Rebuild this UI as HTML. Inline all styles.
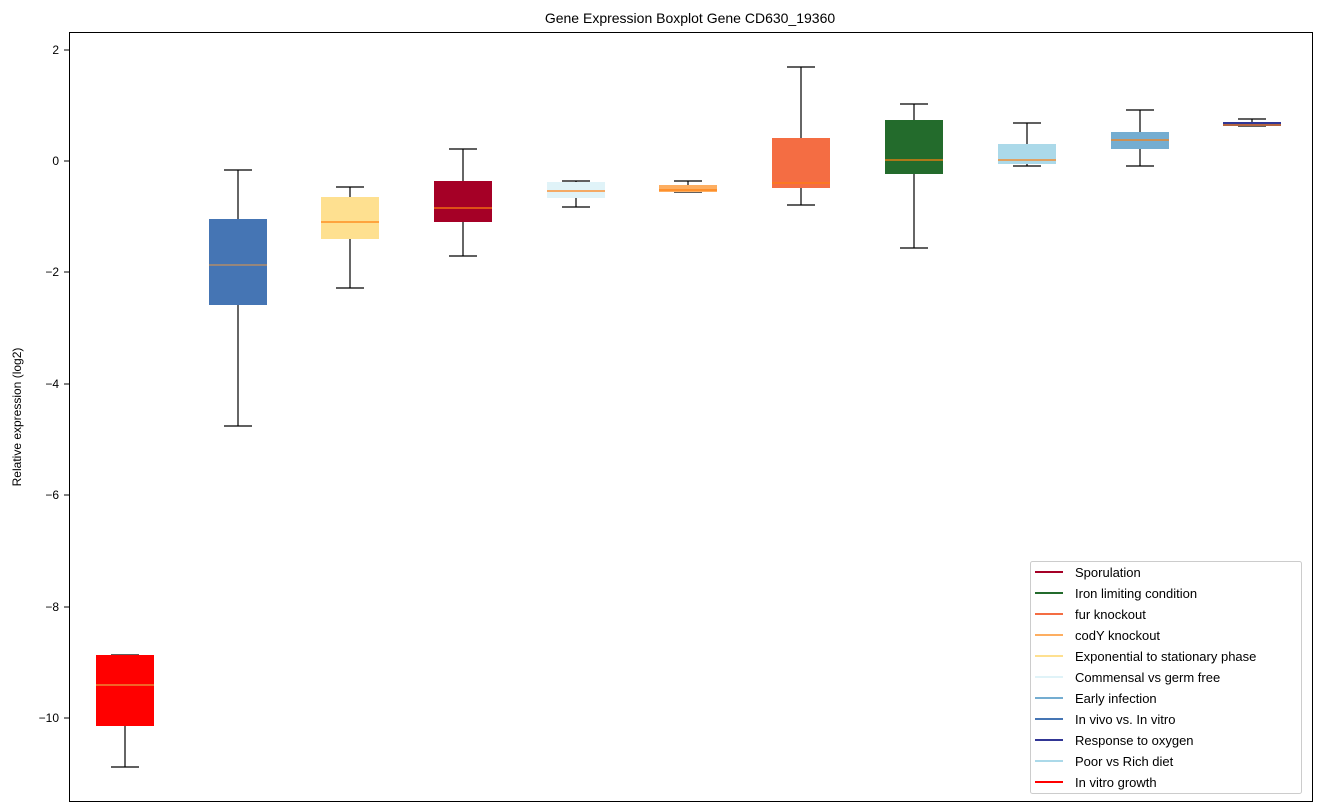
<!DOCTYPE html>
<html><head><meta charset="utf-8"><style>body{margin:0;background:#fff}svg{display:block;font-family:"Liberation Sans","DejaVu Sans",sans-serif}</style></head><body>
<svg width="1318" height="812" viewBox="0 0 1318 812">
<rect width="1318" height="812" fill="#fff"/>
<text x="690" y="23" font-size="14" text-anchor="middle">Gene Expression Boxplot Gene CD630_19360</text>
<g font-size="12" text-anchor="end">
<line x1="64" x2="69" y1="50" y2="50" stroke="#000"/><text x="59" y="54">2</text>
<line x1="64" x2="69" y1="161" y2="161" stroke="#000"/><text x="59" y="165">0</text>
<line x1="64" x2="69" y1="272" y2="272" stroke="#000"/><text x="59" y="276">−2</text>
<line x1="64" x2="69" y1="384" y2="384" stroke="#000"/><text x="59" y="388">−4</text>
<line x1="64" x2="69" y1="495" y2="495" stroke="#000"/><text x="59" y="499">−6</text>
<line x1="64" x2="69" y1="607" y2="607" stroke="#000"/><text x="59" y="611">−8</text>
<line x1="64" x2="69" y1="718" y2="718" stroke="#000"/><text x="59" y="722">−10</text>
</g>
<text transform="translate(21,417) rotate(-90)" font-size="12" text-anchor="middle">Relative expression (log2)</text>
<g stroke="#000" stroke-width="1.2">
<line x1="125" x2="125" y1="726" y2="767"/><line x1="111" x2="139" y1="767" y2="767"/><line x1="111" x2="139" y1="655" y2="655"/>
<line x1="238" x2="238" y1="170" y2="426"/><line x1="224" x2="252" y1="170" y2="170"/><line x1="224" x2="252" y1="426" y2="426"/>
<line x1="350" x2="350" y1="187" y2="288"/><line x1="336" x2="364" y1="187" y2="187"/><line x1="336" x2="364" y1="288" y2="288"/>
<line x1="463" x2="463" y1="149" y2="256"/><line x1="449" x2="477" y1="149" y2="149"/><line x1="449" x2="477" y1="256" y2="256"/>
<line x1="576" x2="576" y1="181" y2="207"/><line x1="562" x2="590" y1="181" y2="181"/><line x1="562" x2="590" y1="207" y2="207"/>
<line x1="688" x2="688" y1="181" y2="192"/><line x1="674" x2="702" y1="181" y2="181"/><line x1="674" x2="702" y1="192" y2="192"/>
<line x1="801" x2="801" y1="67" y2="205"/><line x1="787" x2="815" y1="67" y2="67"/><line x1="787" x2="815" y1="205" y2="205"/>
<line x1="914" x2="914" y1="104" y2="248"/><line x1="900" x2="928" y1="104" y2="104"/><line x1="900" x2="928" y1="248" y2="248"/>
<line x1="1027" x2="1027" y1="123" y2="166"/><line x1="1013" x2="1041" y1="123" y2="123"/><line x1="1013" x2="1041" y1="166" y2="166"/>
<line x1="1140" x2="1140" y1="110" y2="166"/><line x1="1126" x2="1154" y1="110" y2="110"/><line x1="1126" x2="1154" y1="166" y2="166"/>
<line x1="1252" x2="1252" y1="119" y2="123"/><line x1="1238" x2="1266" y1="119" y2="119"/><line x1="1238" x2="1266" y1="126" y2="126"/>
</g>
<g>
<rect x="96" y="655" width="58" height="71" fill="#ff0000"/>
<rect x="209" y="219" width="58" height="86" fill="#4575b4"/>
<rect x="321" y="197" width="58" height="42" fill="#fee090"/>
<rect x="434" y="181" width="58" height="41" fill="#a50026"/>
<rect x="547" y="182" width="58" height="16" fill="#e0f3f8"/>
<rect x="659" y="185" width="58" height="7" fill="#fdae61"/>
<rect x="772" y="138" width="58" height="50" fill="#f46d43"/>
<rect x="885" y="120" width="58" height="54" fill="#236b2c"/>
<rect x="998" y="144" width="58" height="20" fill="#abd9e9"/>
<rect x="1111" y="132" width="58" height="17" fill="#74add1"/>
<rect x="1223" y="122" width="58" height="4" fill="#313695"/>
</g>
<g stroke="#ff7f0e" stroke-width="1.2">
<line x1="96" x2="154" y1="685" y2="685" stroke="#e8a040"/>
<line x1="209" x2="267" y1="265" y2="265" stroke="#c8905a"/>
<line x1="321" x2="379" y1="222" y2="222"/>
<line x1="434" x2="492" y1="208" y2="208"/>
<line x1="547" x2="605" y1="191" y2="191"/>
<line x1="659" x2="717" y1="190" y2="190"/>
<line x1="772" x2="830" y1="183" y2="183"/>
<line x1="885" x2="943" y1="160" y2="160"/>
<line x1="998" x2="1056" y1="160" y2="160"/>
<line x1="1111" x2="1169" y1="140" y2="140"/>
<line x1="1223" x2="1281" y1="125" y2="125"/>
</g>
<rect x="69.5" y="32.5" width="1243" height="769" fill="none" stroke="#000"/>
<rect x="1030.5" y="561.5" width="271" height="232" fill="#fff" stroke="#ccc" rx="2"/>
<g font-size="13" stroke-width="2">
<line x1="1035" x2="1063" y1="572" y2="572" stroke="#a50026"/><text x="1075" y="577">Sporulation</text>
<line x1="1035" x2="1063" y1="593" y2="593" stroke="#236b2c"/><text x="1075" y="598">Iron limiting condition</text>
<line x1="1035" x2="1063" y1="614" y2="614" stroke="#f46d43"/><text x="1075" y="619">fur knockout</text>
<line x1="1035" x2="1063" y1="635" y2="635" stroke="#fdae61"/><text x="1075" y="640">codY knockout</text>
<line x1="1035" x2="1063" y1="656" y2="656" stroke="#fee090"/><text x="1075" y="661">Exponential to stationary phase</text>
<line x1="1035" x2="1063" y1="677" y2="677" stroke="#e0f3f8"/><text x="1075" y="682">Commensal vs germ free</text>
<line x1="1035" x2="1063" y1="698" y2="698" stroke="#74add1"/><text x="1075" y="703">Early infection</text>
<line x1="1035" x2="1063" y1="719" y2="719" stroke="#4575b4"/><text x="1075" y="724">In vivo vs. In vitro</text>
<line x1="1035" x2="1063" y1="740" y2="740" stroke="#313695"/><text x="1075" y="745">Response to oxygen</text>
<line x1="1035" x2="1063" y1="761" y2="761" stroke="#abd9e9"/><text x="1075" y="766">Poor vs Rich diet</text>
<line x1="1035" x2="1063" y1="782" y2="782" stroke="#ff0000"/><text x="1075" y="787">In vitro growth</text>
</g>
</svg>
</body></html>
